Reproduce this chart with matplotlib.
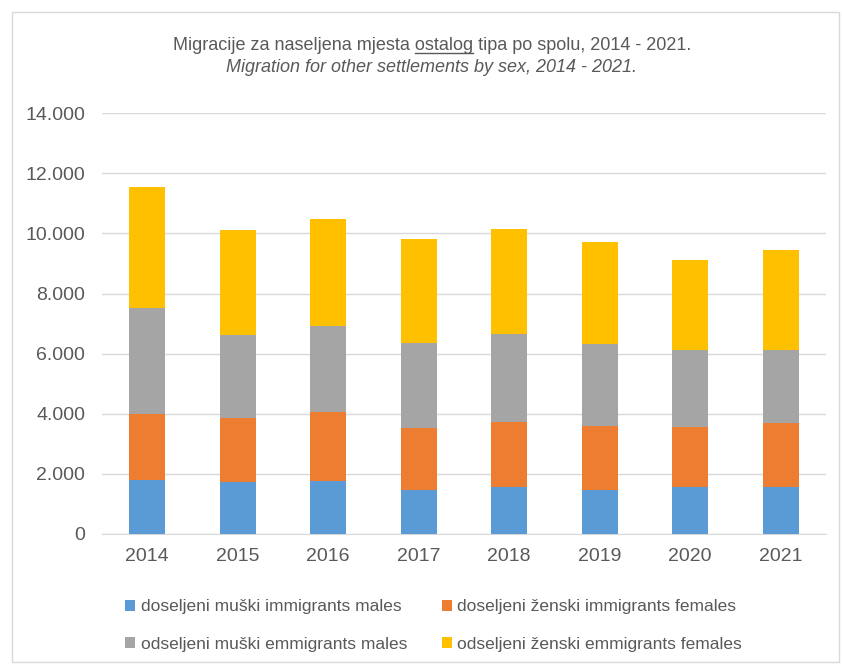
import matplotlib
matplotlib.use("Agg")
import matplotlib.pyplot as plt
import numpy as np
from matplotlib.patches import Rectangle
from matplotlib.lines import Line2D

plt.rcParams['font.family'] = ['Liberation Sans', 'DejaVu Sans']

years = ['2014', '2015', '2016', '2017', '2018', '2019', '2020', '2021']
dos_m = [1800, 1720, 1760, 1480, 1560, 1480, 1560, 1560]
dos_z = [2180, 2150, 2310, 2040, 2150, 2110, 2000, 2120]
ods_m = [3530, 2740, 2850, 2850, 2930, 2740, 2570, 2450]
ods_z = [4020, 3500, 3560, 3440, 3520, 3400, 2980, 3330]

labels = ['doseljeni muški immigrants males', 'doseljeni ženski immigrants females',
          'odseljeni muški emmigrants males', 'odseljeni ženski emmigrants females']
colors = ['#5b9bd5', '#ed7d31', '#a5a5a5', '#ffc000']
txt = '#595959'

fig = plt.figure(figsize=(8.42, 6.70), dpi=100)
ax = fig.add_axes([0.121, 0.203, 0.860, 0.628])

x = np.arange(len(years))
bottom = np.zeros(len(years))
bars = []
for vals, c, lab in zip([dos_m, dos_z, ods_m, ods_z], colors, labels):
    b = ax.bar(x, vals, 0.4, bottom=bottom, color=c, label=lab, zorder=3)
    bars.append(b)
    bottom += np.array(vals)

ax.set_xlim(-0.5, len(years) - 0.5)
ax.set_ylim(0, 14000)
ax.set_yticks(range(0, 14001, 2000))
ax.set_yticklabels(['0' if v == 0 else f'{v // 1000}.{v % 1000:03d}' for v in range(0, 14001, 2000)])
ax.set_xticks(x)
ax.set_xticklabels(years)
ax.tick_params(length=0, labelsize=14, colors=txt)
ax.tick_params(axis='y', pad=12)
ax.tick_params(axis='x', pad=10)
ax.grid(axis='y', color='#d9d9d9', lw=1, zorder=0)
for s in ['top', 'right', 'left']:
    ax.spines[s].set_visible(False)
ax.spines['bottom'].set_color('#d9d9d9')

# naslov
t1 = 'Migracije za naseljena mjesta '
w = 'ostalog'
t2 = ' tipa po spolu, 2014 - 2021.'
title = fig.text(0.513, 0.932, t1 + w + t2, ha='center', va='center', fontsize=13, color=txt)
fig.text(0.513, 0.899, 'Migration for other settlements by sex, 2014 - 2021.', ha='center', va='center',
         fontsize=13, color=txt, style='italic')

# podvuci "ostalog"
fig.canvas.draw()
r = fig.canvas.get_renderer()
bb = title.get_window_extent(r)
tmp = fig.text(0, 0, t1, fontsize=13)
w1 = tmp.get_window_extent(r).width
tmp.set_text(t1 + w)
w2 = tmp.get_window_extent(r).width
tmp.remove()
yl = (bb.y0 + 1) / fig.bbox.height
fig.add_artist(Line2D([(bb.x0 + w1) / fig.bbox.width, (bb.x0 + w2) / fig.bbox.width], [yl, yl],
                      transform=fig.transFigure, color=txt, lw=1))

# legenda po redovima
order = [0, 2, 1, 3]
fig.legend([bars[i] for i in order], [labels[i] for i in order],
           loc='center', bbox_to_anchor=(0.515, 0.066), ncol=2, frameon=False,
           fontsize=12.5, labelcolor=txt, handlelength=0.6, handleheight=0.6,
           handletextpad=0.3, columnspacing=2.0, labelspacing=1.3)

fig.add_artist(Rectangle((0.014, 0.012), 0.982, 0.97, transform=fig.transFigure,
                         fill=False, edgecolor='#d9d9d9', lw=1))

fig.savefig('out.png', dpi=100)
